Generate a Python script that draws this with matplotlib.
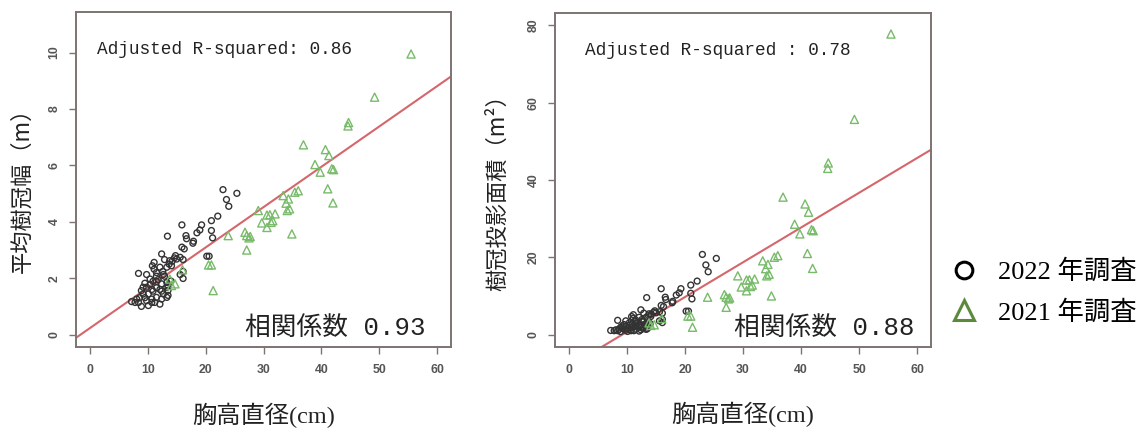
import matplotlib
matplotlib.use("Agg")
import matplotlib.pyplot as plt
from matplotlib.lines import Line2D
from matplotlib.font_manager import FontProperties

# ---- data: DBH (cm), mean crown width (m), crown projection area (m2) ----
dbh_2022 = [23.0, 25.4, 23.6, 24.0, 22.1, 21.0, 19.3, 19.0, 18.5, 21.0,
            21.2, 15.9, 17.9, 17.8, 16.6, 16.7, 13.4, 15.9, 16.3, 20.2,
            20.6, 15.6, 16.1, 14.8, 12.4, 12.9, 13.8, 13.7, 14.1, 13.3,
            11.1, 10.8, 16.1, 16.1, 15.6, 12.7, 11.5, 10.4, 9.8, 8.4,
            11.5, 12.4, 13.3, 11.5, 10.9, 9.8, 9.2, 10.1, 12.1, 12.7,
            13.5, 13.5, 13.3, 11.5, 10.7, 10.7, 10.1, 8.9, 8.4, 7.8,
            7.2, 9.5, 8.6, 8.1, 9.8, 11.2, 12.1, 12.4, 10.4, 10.9,
            11.8, 9.2, 8.9, 9.5, 11.1, 11.5, 12.1, 12.6, 12.9, 14.0,
            13.5, 12.4, 10.7, 13.3, 14.2, 14.6, 15.0]
width_2022 = [5.14, 5.01, 4.79, 4.55, 4.20, 4.04, 3.89, 3.71, 3.61, 3.69,
              3.43, 3.89, 3.31, 3.24, 3.51, 3.40, 3.49, 3.10, 3.04, 2.78,
              2.78, 2.74, 2.66, 2.80, 2.86, 2.66, 2.62, 2.50, 2.44, 2.39,
              2.56, 2.44, 2.24, 1.99, 2.13, 2.13, 2.07, 1.97, 2.13, 2.17,
              1.89, 1.80, 1.85, 1.66, 1.54, 1.68, 1.44, 1.44, 1.60, 1.44,
              1.57, 1.39, 1.68, 1.32, 1.26, 1.14, 1.03, 1.00, 1.14, 1.14,
              1.17, 1.31, 1.31, 1.26, 1.20, 1.14, 1.08, 1.26, 1.77, 1.89,
              1.95, 1.68, 1.56, 1.82, 2.32, 2.20, 2.39, 2.24, 2.07, 1.90,
              1.74, 1.54, 1.60, 1.32, 2.60, 2.72, 2.68]
area_2022 = [20.75, 19.71, 18.02, 16.26, 13.85, 12.82, 11.88, 10.81, 10.24, 10.69,
             9.24, 11.88, 8.61, 8.24, 9.68, 9.08, 9.57, 7.55, 7.26, 6.07,
             6.07, 5.90, 5.56, 6.16, 6.42, 5.56, 5.39, 4.91, 4.68, 4.49,
             5.15, 4.68, 3.94, 3.11, 3.56, 3.56, 3.37, 3.05, 3.56, 3.70,
             2.81, 2.54, 2.69, 2.16, 1.86, 2.22, 1.63, 1.63, 2.01, 1.63,
             1.94, 1.52, 2.22, 1.37, 1.25, 1.02, 0.83, 0.79, 1.02, 1.02,
             1.08, 1.35, 1.35, 1.25, 1.13, 1.02, 0.92, 1.25, 2.46, 2.81,
             2.99, 2.22, 1.91, 2.60, 4.23, 3.80, 4.49, 3.94, 3.37, 2.84,
             2.38, 1.86, 2.01, 1.37, 5.31, 5.81, 5.64]

dbh_2021 = [55.5, 49.2, 44.6, 44.7, 36.9, 40.7, 41.3, 38.9, 39.8, 41.8,
            42.1, 41.1, 42.0, 36.0, 35.4, 33.4, 34.3, 33.9, 34.5, 34.1,
            34.9, 32.0, 31.1, 30.6, 31.6, 31.3, 29.7, 30.6, 29.1, 27.1,
            27.7, 27.5, 26.8, 27.1, 23.9, 20.5, 21.0, 21.3, 14.1, 13.8,
            14.7, 16.0]
width_2021 = [9.95, 8.42, 7.40, 7.52, 6.73, 6.56, 6.35, 6.03, 5.76, 5.88,
              5.85, 5.17, 4.67, 5.10, 5.05, 4.93, 4.81, 4.66, 4.46, 4.40,
              3.57, 4.28, 4.25, 4.24, 4.04, 3.98, 3.96, 3.80, 4.40, 3.51,
              3.48, 3.43, 3.63, 3.00, 3.51, 2.47, 2.47, 1.56, 1.74, 1.97,
              1.80, 2.30]
area_2021 = [77.76, 55.68, 43.01, 44.41, 35.57, 33.80, 31.67, 28.56, 26.06, 27.15,
             26.88, 20.99, 17.13, 20.43, 20.03, 19.09, 18.17, 17.06, 15.62, 15.21,
             10.01, 14.39, 14.19, 14.12, 12.82, 12.44, 12.32, 11.34, 15.21, 9.68,
             9.51, 9.24, 10.35, 7.07, 9.68, 4.79, 4.79, 1.91, 2.38, 3.05,
             2.54, 4.15]

# regression lines (intercept, slope)
fit_width = (0.23, 0.143)
fit_area = (-8.26, 0.899)

x_ticks = [0, 10, 20, 30, 40, 50, 60]
width_ticks = [0, 2, 4, 6, 8, 10]
area_ticks = [0, 20, 40, 60, 80]

labels_year = ["2022 年調査", "2021 年調査"]

# ---- styling ----
CJK = "Noto Sans CJK JP"
circle_color = "#333333"
tri_color = "#78bb6a"
legend_tri_color = "#5b8a3c"
line_color = "#d5666c"
frame_color = "#7e7373"
tick_color = "#555555"

mono_cjk = FontProperties(family=["Liberation Mono", CJK], size=12.8)
corr_font = FontProperties(family=["Liberation Mono", CJK], size=18.5)
label_font = FontProperties(family=["Liberation Serif", CJK], size=17.5)
ylabel_font = FontProperties(family=[CJK], size=16)
legend_font = FontProperties(family=["Liberation Serif", CJK], size=19)

fig = plt.figure(figsize=(11.46, 4.28), dpi=100)
fig.patch.set_facecolor("white")

W, H = 1146, 428
ax1 = fig.add_axes([76 / W, 1 - 347 / H, 375 / W, 335 / H])
ax2 = fig.add_axes([555 / W, 1 - 347 / H, 376 / W, 334 / H])


def style_axes(ax, yticks, ylim):
    ax.set_xlim(-2.4, 62.4)
    ax.set_ylim(*ylim)
    ax.set_xticks(x_ticks)
    ax.set_yticks(yticks)
    ax.set_xticklabels([str(t) for t in x_ticks])
    ax.set_yticklabels([str(t) for t in yticks], rotation=90, va="center")
    for sp in ax.spines.values():
        sp.set_color(frame_color)
        sp.set_linewidth(1.4)
    ax.tick_params(axis="both", direction="out", length=5, width=1.0,
                   color=frame_color, labelcolor=tick_color, labelsize=8.8)
    ax.tick_params(axis="x", pad=7)
    ax.tick_params(axis="y", pad=6)
    for lab in ax.get_xticklabels() + ax.get_yticklabels():
        lab.set_fontfamily("Liberation Sans")
        lab.set_fontweight("bold")


def style_labels(ax, ytext, ycoord):
    ax.set_ylabel(ytext, fontproperties=ylabel_font, color="#222222")
    ax.yaxis.label.set_verticalalignment("center")
    ax.yaxis.set_label_coords(*ycoord)
    ax.set_xlabel("胸高直径(cm)", fontproperties=label_font, color="#222222")
    ax.xaxis.label.set_verticalalignment("center")
    ax.xaxis.set_label_coords(0.5, -0.203)


# left panel: crown width
ax1.scatter(dbh_2022, width_2022, s=18, marker="o", facecolors="none",
            edgecolors=circle_color, linewidths=1.0, zorder=3)
ax1.scatter(dbh_2021, width_2021, s=34, marker="^", facecolors="none",
            edgecolors=tri_color, linewidths=1.0, zorder=3)
ax1.axline((0, fit_width[0]), slope=fit_width[1], color=line_color, lw=1.5, zorder=2)
style_axes(ax1, width_ticks, (-0.44, 11.44))
ax1.text(0.055, 0.887, "Adjusted R-squared: 0.86", transform=ax1.transAxes,
         ha="left", va="center", fontproperties=mono_cjk, color="#222222")
ax1.text(0.933, 0.057, "相関係数 0.93", transform=ax1.transAxes,
         ha="right", va="center", fontproperties=corr_font, color="#222222",
         zorder=5, bbox=dict(facecolor="white", edgecolor="none", pad=3))
style_labels(ax1, "平均樹冠幅（m）", (-0.145, 0.485))

# right panel: crown projection area
ax2.scatter(dbh_2022, area_2022, s=18, marker="o", facecolors="none",
            edgecolors=circle_color, linewidths=1.0, zorder=3)
ax2.scatter(dbh_2021, area_2021, s=34, marker="^", facecolors="none",
            edgecolors=tri_color, linewidths=1.0, zorder=3)
ax2.axline((0, fit_area[0]), slope=fit_area[1], color=line_color, lw=1.5, zorder=2)
style_axes(ax2, area_ticks, (-3.2, 83.2))
ax2.text(0.08, 0.889, "Adjusted R-squared : 0.78", transform=ax2.transAxes,
         ha="left", va="center", fontproperties=mono_cjk, color="#222222")
ax2.text(0.957, 0.057, "相関係数 0.88", transform=ax2.transAxes,
         ha="right", va="center", fontproperties=corr_font, color="#222222",
         zorder=5, bbox=dict(facecolor="white", edgecolor="none", pad=3))
style_labels(ax2, "樹冠投影面積（m²）", (-0.152, 0.48))

# legend outside the panels
handles = [
    Line2D([], [], ls="none", marker="o", mfc="none", mec="black", ms=12, mew=2.2),
    Line2D([], [], ls="none", marker="^", mfc="none", mec=legend_tri_color, ms=15, mew=2.2),
]
fig.legend(handles, labels_year, loc="center left", bbox_to_anchor=(951 / W, 1 - 292 / H),
           frameon=False, prop=legend_font, handlelength=1.0, handletextpad=0.8,
           labelspacing=0.62, borderaxespad=0, borderpad=0)

fig.savefig("out.png", dpi=100, facecolor="white")
